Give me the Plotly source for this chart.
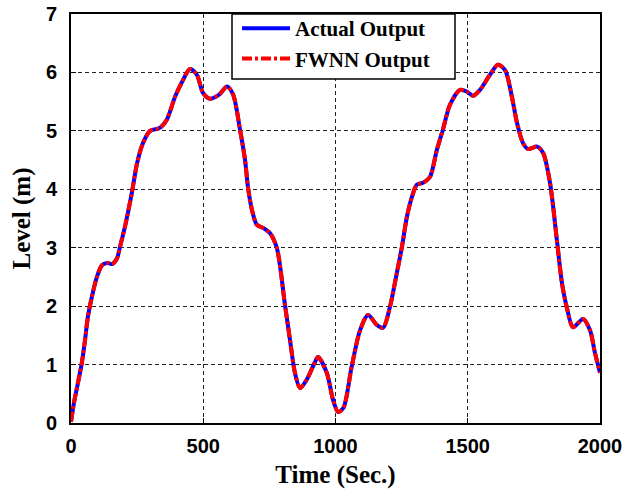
import plotly.graph_objects as go

# Time samples (s) and level values (m)
time_s = [0, 11, 26, 41, 53, 64, 79, 98, 117, 136, 155, 174, 185, 204, 230, 250, 272, 299,
          336, 362, 393, 420, 450, 476, 499, 525, 560, 590, 613, 639, 658, 669, 684, 703,
          726, 752, 778, 809, 828, 847, 866, 891, 922, 934, 967, 991, 1010, 1030, 1061,
          1093, 1123, 1156, 1180, 1206, 1232, 1251, 1270, 1289, 1308, 1331, 1357, 1383,
          1406, 1433, 1471, 1497, 1520, 1546, 1584, 1614, 1641, 1667, 1686, 1709, 1728,
          1762, 1785, 1811, 1837, 1856, 1874, 1898, 1936, 1962, 1981, 2000]
actual_output = [0.02, 0.34, 0.68, 1.03, 1.42, 1.82, 2.16, 2.50, 2.70, 2.74, 2.72, 2.82, 3.01,
                 3.36, 3.94, 4.45, 4.79, 5.00, 5.05, 5.19, 5.58, 5.84, 6.06, 5.96, 5.65, 5.55,
                 5.62, 5.76, 5.62, 5.02, 4.50, 4.04, 3.65, 3.39, 3.34, 3.25, 3.00, 2.02, 1.42,
                 0.85, 0.60, 0.74, 1.04, 1.13, 0.86, 0.39, 0.19, 0.26, 0.96, 1.59, 1.85, 1.68,
                 1.63, 1.99, 2.57, 3.01, 3.53, 3.87, 4.08, 4.11, 4.21, 4.67, 5.02, 5.45, 5.70,
                 5.67, 5.60, 5.70, 5.96, 6.13, 6.04, 5.58, 5.14, 4.79, 4.69, 4.73, 4.62, 4.11,
                 3.13, 2.40, 1.99, 1.64, 1.78, 1.59, 1.20, 0.86]
fwnn_output = list(actual_output)

x_ticks = [0, 500, 1000, 1500, 2000]
y_ticks = [0, 1, 2, 3, 4, 5, 6, 7]

fig = go.Figure()
fig.add_trace(go.Scatter(x=time_s, y=actual_output, mode="lines", name="Actual Output",
                         line=dict(color="#0000FF", width=4, shape="spline", smoothing=0.8)))
fig.add_trace(go.Scatter(x=time_s, y=fwnn_output, mode="lines", name="FWNN Output",
                         line=dict(color="#FF0000", width=4, shape="spline", smoothing=0.8,
                                   dash="10px,3px,3px,3px")))

axis_common = dict(showline=True, linecolor="black", linewidth=2, mirror=True,
                   ticks="inside", ticklen=5, tickcolor="black", tickwidth=1,
                   showgrid=True, gridcolor="#222222", gridwidth=1, griddash="4px,3px",
                   zeroline=False, automargin=False,
                   tickfont=dict(family="Liberation Sans, Arial", size=20, color="black", weight="bold"))

fig.update_xaxes(range=[0, 2000], tickvals=x_ticks, ticklabelstandoff=4,
                 title=dict(text="Time (Sec.)", standoff=9,
                            font=dict(family="Liberation Serif, Times New Roman", size=25,
                                      color="black", weight="bold")),
                 **axis_common)
fig.update_yaxes(range=[0, 7], tickvals=y_ticks, ticklabelstandoff=8,
                 title=dict(text="Level (m)", standoff=8,
                            font=dict(family="Liberation Serif, Times New Roman", size=25,
                                      color="black", weight="bold")),
                 **axis_common)

# legend frame (white box with black border)
fig.add_shape(type="rect", xref="paper", yref="paper",
              x0=(232 - 71) / 529, x1=(455 - 71) / 529, y0=(423 - 79) / 409, y1=1.0,
              fillcolor="white", line=dict(color="black", width=1.5), layer="above")

fig.update_layout(
    width=625, height=492,
    margin=dict(l=71, r=25, t=14, b=69, autoexpand=False),
    paper_bgcolor="white", plot_bgcolor="white",
    legend=dict(x=(237 - 71) / 529, y=1 + 6 / 409, xanchor="left", yanchor="top",
                bgcolor="rgba(0,0,0,0)", borderwidth=0,
                itemwidth=48, tracegroupgap=0,
                font=dict(family="Liberation Serif, Times New Roman", size=21,
                          color="black", weight="bold")),
)

fig.write_html("out.html")
